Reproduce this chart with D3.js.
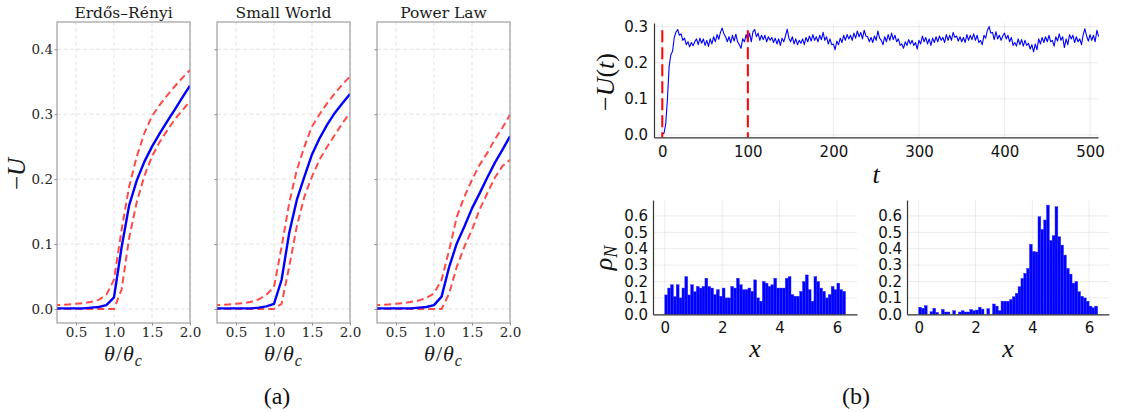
<!DOCTYPE html>
<html>
<head>
<meta charset="utf-8">
<script src="https://cdn.jsdelivr.net/npm/d3@7"></script>
<style>
  body { margin: 0; background: #ffffff; }
  svg { display: block; }
</style>
</head>
<body>
<svg id="fig" width="1124" height="412"></svg>
<script>
// ---------- panel (a): order parameter versus coupling ----------
const thetaRatio = [0.2, 0.3, 0.4, 0.5, 0.6, 0.7, 0.8, 0.9, 1.0, 1.1, 1.2, 1.3, 1.4, 1.5, 1.6, 1.7, 1.8, 1.9, 2.0];
const networkNames = ["Erdős–Rényi", "Small World", "Power Law"];

const erMean  = [0.001, 0.001, 0.001, 0.001, 0.001, 0.002, 0.003, 0.006, 0.018, 0.095, 0.160, 0.198, 0.227, 0.250, 0.270, 0.289, 0.307, 0.326, 0.344];
const erUpper = [0.006, 0.006, 0.007, 0.008, 0.009, 0.011, 0.014, 0.022, 0.045, 0.122, 0.189, 0.235, 0.271, 0.297, 0.314, 0.329, 0.343, 0.356, 0.368];
const erLower = [0, 0, 0, 0, 0, 0, 0, 0, 0, 0.030, 0.110, 0.165, 0.205, 0.235, 0.257, 0.275, 0.292, 0.306, 0.320];

const swMean  = [0.001, 0.001, 0.001, 0.001, 0.001, 0.001, 0.002, 0.004, 0.008, 0.045, 0.117, 0.168, 0.204, 0.238, 0.263, 0.284, 0.302, 0.317, 0.331];
const swUpper = [0.006, 0.006, 0.007, 0.008, 0.009, 0.011, 0.015, 0.022, 0.034, 0.096, 0.163, 0.214, 0.250, 0.281, 0.300, 0.317, 0.332, 0.346, 0.358];
const swLower = [0, 0, 0, 0, 0, 0, 0, 0, 0, 0.008, 0.065, 0.127, 0.173, 0.204, 0.230, 0.250, 0.268, 0.286, 0.302];

const plMean  = [0.001, 0.001, 0.001, 0.001, 0.001, 0.001, 0.002, 0.003, 0.006, 0.019, 0.065, 0.101, 0.127, 0.155, 0.178, 0.202, 0.225, 0.245, 0.266];
const plUpper = [0.006, 0.006, 0.007, 0.008, 0.009, 0.011, 0.013, 0.017, 0.024, 0.045, 0.091, 0.142, 0.173, 0.199, 0.222, 0.240, 0.261, 0.279, 0.299];
const plLower = [0, 0, 0, 0, 0, 0, 0, 0, 0, 0, 0.024, 0.065, 0.096, 0.122, 0.153, 0.178, 0.202, 0.220, 0.230];

const thetaTicks = [0.5, 1.0, 1.5, 2.0];
const uTicks = [0.0, 0.1, 0.2, 0.3, 0.4];

// ---------- panel (b), top: -U(t) time series (sampled every 2 steps) ----------
const timeStep = 2;
const negU = [
  0.003, 0.005, 0.030, 0.100, 0.190, 0.222, 0.232, 0.270, 0.285, 0.292,
  0.276, 0.280, 0.262, 0.268, 0.250, 0.258, 0.244, 0.256, 0.247, 0.258,
  0.266, 0.250, 0.268, 0.254, 0.266, 0.248, 0.262, 0.245, 0.266, 0.252,
  0.272, 0.258, 0.278, 0.265, 0.284, 0.296, 0.280, 0.272, 0.258, 0.272,
  0.255, 0.276, 0.260, 0.279, 0.258, 0.250, 0.240, 0.266, 0.258, 0.278,
  0.262, 0.282, 0.258, 0.286, 0.292, 0.272, 0.282, 0.262, 0.276, 0.264,
  0.276, 0.258, 0.272, 0.262, 0.270, 0.256, 0.268, 0.252, 0.266, 0.248,
  0.268, 0.258, 0.274, 0.293, 0.268, 0.258, 0.272, 0.252, 0.266, 0.250,
  0.262, 0.254, 0.266, 0.250, 0.270, 0.258, 0.274, 0.260, 0.278, 0.262,
  0.272, 0.258, 0.276, 0.264, 0.284, 0.262, 0.272, 0.252, 0.266, 0.250,
  0.252, 0.236, 0.260, 0.250, 0.268, 0.256, 0.276, 0.262, 0.278, 0.266,
  0.276, 0.262, 0.282, 0.268, 0.288, 0.272, 0.284, 0.266, 0.290, 0.274,
  0.272, 0.258, 0.270, 0.256, 0.274, 0.262, 0.288, 0.268, 0.262, 0.250,
  0.272, 0.258, 0.278, 0.262, 0.282, 0.264, 0.276, 0.258, 0.266, 0.248,
  0.252, 0.240, 0.258, 0.248, 0.264, 0.252, 0.262, 0.248, 0.256, 0.238,
  0.262, 0.252, 0.274, 0.258, 0.270, 0.252, 0.266, 0.248, 0.268, 0.256,
  0.272, 0.258, 0.274, 0.262, 0.270, 0.256, 0.278, 0.262, 0.276, 0.262,
  0.284, 0.270, 0.274, 0.260, 0.272, 0.258, 0.270, 0.256, 0.278, 0.262,
  0.276, 0.264, 0.280, 0.262, 0.276, 0.256, 0.262, 0.250, 0.276, 0.268,
  0.290, 0.300, 0.282, 0.284, 0.264, 0.286, 0.266, 0.276, 0.262, 0.274,
  0.282, 0.266, 0.276, 0.258, 0.270, 0.248, 0.256, 0.246, 0.266, 0.250,
  0.264, 0.246, 0.262, 0.248, 0.254, 0.238, 0.250, 0.230, 0.252, 0.236,
  0.266, 0.252, 0.270, 0.256, 0.272, 0.258, 0.276, 0.258, 0.262, 0.246,
  0.272, 0.260, 0.280, 0.262, 0.272, 0.242, 0.266, 0.250, 0.278, 0.266,
  0.276, 0.256, 0.272, 0.258, 0.266, 0.250, 0.278, 0.294, 0.274, 0.260,
  0.278, 0.262, 0.276, 0.258, 0.290, 0.272
];
const markerTimes = [0, 100];
const timeTicks = [0, 100, 200, 300, 400, 500];
const negUTicks = [0.0, 0.1, 0.2, 0.3];

// ---------- panel (b), bottom: phase densities, bins of width 0.1 from 0 ----------
const binWidth = 0.1;
const densityEarly = [
  0.118, 0.160, 0.180, 0.108, 0.180, 0.100, 0.160, 0.230, 0.118, 0.180,
  0.138, 0.170, 0.160, 0.170, 0.220, 0.170, 0.160, 0.120, 0.150, 0.110,
  0.160, 0.100, 0.100, 0.170, 0.160, 0.220, 0.180, 0.150, 0.150, 0.160,
  0.140, 0.210, 0.100, 0.080, 0.200, 0.190, 0.170, 0.180, 0.220, 0.160,
  0.160, 0.160, 0.220, 0.230, 0.120, 0.110, 0.110, 0.140, 0.200, 0.240,
  0.150, 0.080, 0.230, 0.200, 0.160, 0.140, 0.100, 0.120, 0.170, 0.150,
  0.190, 0.150, 0.140
];
const densityLate = [
  0.043, 0.037, 0.053, 0.000, 0.016, 0.037, 0.012, 0.000, 0.030, 0.014,
  0.014, 0.000, 0.022, 0.000, 0.014, 0.022, 0.014, 0.014, 0.030, 0.022,
  0.026, 0.043, 0.032, 0.000, 0.035, 0.000, 0.063, 0.050, 0.022, 0.080,
  0.080, 0.080, 0.090, 0.107, 0.128, 0.168, 0.219, 0.250, 0.280, 0.427,
  0.383, 0.380, 0.595, 0.518, 0.575, 0.666, 0.450, 0.480, 0.656, 0.473,
  0.422, 0.361, 0.280, 0.245, 0.190, 0.200, 0.138, 0.110, 0.100, 0.080,
  0.050, 0.040, 0.050
];
const phaseTicks = [0, 2, 4, 6];
const densityTicks = [0.0, 0.1, 0.2, 0.3, 0.4, 0.5, 0.6];

// ---------- drawing ----------
const svg = d3.select("#fig");
const SERIF = "'DejaVu Serif', serif";
const MATH = "'Liberation Serif', 'DejaVu Serif', serif";
const SANS = "'DejaVu Sans', sans-serif";
const BLUE = "#0000ff";
const RED = "#ff4a4a";

const defs = svg.append("defs");

// ---- panel (a) ----
const aLefts = [57, 217, 377];
const aWidth = 133, aTop = 22, aBottom = 323;
const aSeries = [
  { mean: erMean, upper: erUpper, lower: erLower },
  { mean: swMean, upper: swUpper, lower: swLower },
  { mean: plMean, upper: plUpper, lower: plLower }
];

aLefts.forEach((left, k) => {
  const x = d3.scaleLinear().domain([0.25, 2.0]).range([left, left + aWidth]);
  const y = d3.scaleLinear().domain([-0.0216, 0.442]).range([aBottom, aTop]);
  const g = svg.append("g");

  // dashed grid
  g.selectAll(null).data(thetaTicks).join("line")
    .attr("x1", d => x(d)).attr("x2", d => x(d))
    .attr("y1", aTop).attr("y2", aBottom)
    .attr("stroke", "#dcdcdc").attr("stroke-width", 0.8).attr("stroke-dasharray", "4,2.5");
  g.selectAll(null).data(uTicks).join("line")
    .attr("x1", left).attr("x2", left + aWidth)
    .attr("y1", d => y(d)).attr("y2", d => y(d))
    .attr("stroke", "#dcdcdc").attr("stroke-width", 0.8).attr("stroke-dasharray", "4,2.5");

  // curves: mean (solid) and spread (dashed), clipped to the frame
  const clipId = "clipA" + k;
  defs.append("clipPath").attr("id", clipId)
    .append("rect").attr("x", left).attr("y", aTop).attr("width", aWidth).attr("height", aBottom - aTop);
  const lineOf = vals => d3.line().x((d, i) => x(thetaRatio[i])).y(d => y(d))(vals);
  const curves = g.append("g").attr("clip-path", `url(#${clipId})`);
  const s = aSeries[k];
  [s.upper, s.lower].forEach(vals => {
    curves.append("path").attr("d", lineOf(vals))
      .attr("fill", "none").attr("stroke", RED).attr("stroke-width", 2)
      .attr("stroke-dasharray", "7,4");
  });
  curves.append("path").attr("d", lineOf(s.mean))
    .attr("fill", "none").attr("stroke", BLUE).attr("stroke-width", 2.4)
    .attr("stroke-linejoin", "round");

  // frame
  g.append("rect").attr("x", left).attr("y", aTop).attr("width", aWidth).attr("height", aBottom - aTop)
    .attr("fill", "none").attr("stroke", "#8c8c8c").attr("stroke-width", 1);

  // axes
  const xa = g.append("g").attr("transform", `translate(0,${aBottom})`)
    .call(d3.axisBottom(x).tickValues(thetaTicks).tickFormat(d3.format(".1f")).tickSize(2.5).tickPadding(2));
  const ya = g.append("g").attr("transform", `translate(${left},0)`)
    .call(d3.axisLeft(y).tickValues(uTicks).tickFormat(d3.format(".1f")).tickSize(2.5).tickPadding(1.5));
  [xa, ya].forEach(a => {
    a.select(".domain").remove();
    a.selectAll(".tick line").attr("stroke", "#8c8c8c");
    a.selectAll("text").attr("font-family", SERIF).attr("font-size", 13.5).attr("fill", "#262626");
  });
  if (k > 0) ya.selectAll("text").remove();

  // title
  g.append("text").attr("x", left + aWidth / 2).attr("y", 18)
    .attr("text-anchor", "middle").attr("font-family", SERIF).attr("font-size", 15.5).attr("fill", "#1a1a1a")
    .text(networkNames[k]);

  // x label: θ/θ_c
  const xl = g.append("text").attr("x", left + aWidth / 2).attr("y", 361)
    .attr("text-anchor", "middle").attr("font-family", MATH).attr("font-size", 22).attr("fill", "#1a1a1a")
    .attr("letter-spacing", 1);
  xl.append("tspan").attr("font-style", "italic").text("θ");
  xl.append("tspan").text("/");
  xl.append("tspan").attr("font-style", "italic").text("θ");
  xl.append("tspan").attr("font-style", "italic").attr("font-size", 16).attr("dy", 5).text("c");
});

// y label of panel (a)
{
  const t = svg.append("text").attr("transform", "translate(25,174) rotate(-90)")
    .attr("text-anchor", "middle").attr("font-family", MATH).attr("font-size", 25).attr("fill", "#1a1a1a");
  t.append("tspan").text("−");
  t.append("tspan").attr("font-style", "italic").text("U");
}

// ---- panel (b), time series ----
{
  const left = 654, right = 1098, top = 23, bottom = 137.3;
  const x = d3.scaleLinear().domain([-9.7, 509.3]).range([left, right]);
  const y = d3.scaleLinear().domain([-0.0064, 0.31]).range([bottom, top]);
  const g = svg.append("g");

  g.selectAll(null).data(timeTicks).join("line")
    .attr("x1", d => x(d)).attr("x2", d => x(d)).attr("y1", top).attr("y2", bottom)
    .attr("stroke", "#000").attr("stroke-opacity", 0.1).attr("stroke-width", 0.8);
  g.selectAll(null).data(negUTicks).join("line")
    .attr("x1", left).attr("x2", right).attr("y1", d => y(d)).attr("y2", d => y(d))
    .attr("stroke", "#000").attr("stroke-opacity", 0.1).attr("stroke-width", 0.8);

  g.append("path")
    .attr("d", d3.line().x((d, i) => x(i * timeStep)).y(d => y(d))(negU))
    .attr("fill", "none").attr("stroke", BLUE).attr("stroke-width", 1.1)
    .attr("stroke-linejoin", "round");

  g.selectAll(null).data(markerTimes).join("line")
    .attr("x1", d => x(d)).attr("x2", d => x(d)).attr("y1", y(0.29)).attr("y2", bottom)
    .attr("stroke", "#ff0000").attr("stroke-width", 2).attr("stroke-dasharray", "12,5");

  const xa = g.append("g").attr("transform", `translate(0,${bottom})`)
    .call(d3.axisBottom(x).tickValues(timeTicks).tickFormat(d3.format("d")).tickSize(0).tickPadding(9));
  const ya = g.append("g").attr("transform", `translate(${left},0)`)
    .call(d3.axisLeft(y).tickValues(negUTicks).tickFormat(d3.format(".1f")).tickSize(0).tickPadding(6));
  [xa, ya].forEach(a => {
    a.select(".domain").attr("stroke", "#333").attr("stroke-width", 1.2);
    a.selectAll("text").attr("font-family", SANS).attr("font-size", 15).attr("fill", "#111");
  });

  const yl = g.append("text").attr("transform", "translate(614,82) rotate(-90)")
    .attr("text-anchor", "middle").attr("font-family", MATH).attr("font-size", 26).attr("fill", "#111");
  yl.append("tspan").text("−");
  yl.append("tspan").attr("font-style", "italic").text("U");
  yl.append("tspan").text("(");
  yl.append("tspan").attr("font-style", "italic").text("t");
  yl.append("tspan").text(")");

  g.append("text").attr("x", (left + right) / 2).attr("y", 183)
    .attr("text-anchor", "middle").attr("font-family", MATH).attr("font-size", 26)
    .attr("font-style", "italic").attr("fill", "#111").text("t");
}

// ---- panel (b), histograms ----
[
  { left: 653, right: 857, values: densityEarly },
  { left: 907, right: 1109, values: densityLate }
].forEach((h, k) => {
  const top = 200, bottom = 314.3;
  const x = d3.scaleLinear().domain([-0.41, 6.7]).range([h.left, h.right]);
  const y = d3.scaleLinear().domain([0, 0.697]).range([bottom, top]);
  const g = svg.append("g");

  g.selectAll(null).data(phaseTicks).join("line")
    .attr("x1", d => x(d)).attr("x2", d => x(d)).attr("y1", top).attr("y2", bottom)
    .attr("stroke", "#000").attr("stroke-opacity", 0.1).attr("stroke-width", 0.8);
  g.selectAll(null).data(densityTicks).join("line")
    .attr("x1", h.left).attr("x2", h.right).attr("y1", d => y(d)).attr("y2", d => y(d))
    .attr("stroke", "#000").attr("stroke-opacity", 0.1).attr("stroke-width", 0.8);

  g.selectAll(null).data(h.values).join("rect")
    .attr("x", (d, i) => x(i * binWidth))
    .attr("width", (d, i) => x((i + 1) * binWidth) - x(i * binWidth))
    .attr("y", d => y(d))
    .attr("height", d => y(0) - y(d))
    .attr("fill", BLUE).attr("stroke", "#2f2fff").attr("stroke-width", 0.4);

  const xa = g.append("g").attr("transform", `translate(0,${bottom})`)
    .call(d3.axisBottom(x).tickValues(phaseTicks).tickFormat(d3.format("d")).tickSize(0).tickPadding(8));
  const ya = g.append("g").attr("transform", `translate(${h.left},0)`)
    .call(d3.axisLeft(y).tickValues(densityTicks).tickFormat(d3.format(".1f")).tickSize(0).tickPadding(5));
  [xa, ya].forEach(a => {
    a.select(".domain").attr("stroke", "#333").attr("stroke-width", 1.2);
    a.selectAll("text").attr("font-family", SANS).attr("font-size", 15).attr("fill", "#111");
  });

  g.append("text").attr("x", (h.left + h.right) / 2).attr("y", 357)
    .attr("text-anchor", "middle").attr("font-family", MATH).attr("font-size", 26)
    .attr("font-style", "italic").attr("fill", "#111").text("x");

  if (k === 0) {
    const yl = g.append("text").attr("transform", "translate(612,258) rotate(-90)")
      .attr("text-anchor", "middle").attr("font-family", MATH).attr("font-size", 26).attr("fill", "#111");
    yl.append("tspan").attr("font-style", "italic").text("ρ");
    yl.append("tspan").attr("font-style", "italic").attr("font-size", 18).attr("dy", 5).text("N");
  }
});

// ---- sub-figure captions ----
svg.append("text").attr("x", 277).attr("y", 404).attr("text-anchor", "middle")
  .attr("font-family", MATH).attr("font-size", 24).attr("fill", "#111").text("(a)");
svg.append("text").attr("x", 856).attr("y", 404).attr("text-anchor", "middle")
  .attr("font-family", MATH).attr("font-size", 24).attr("fill", "#111").text("(b)");
</script>
</body>
</html>
